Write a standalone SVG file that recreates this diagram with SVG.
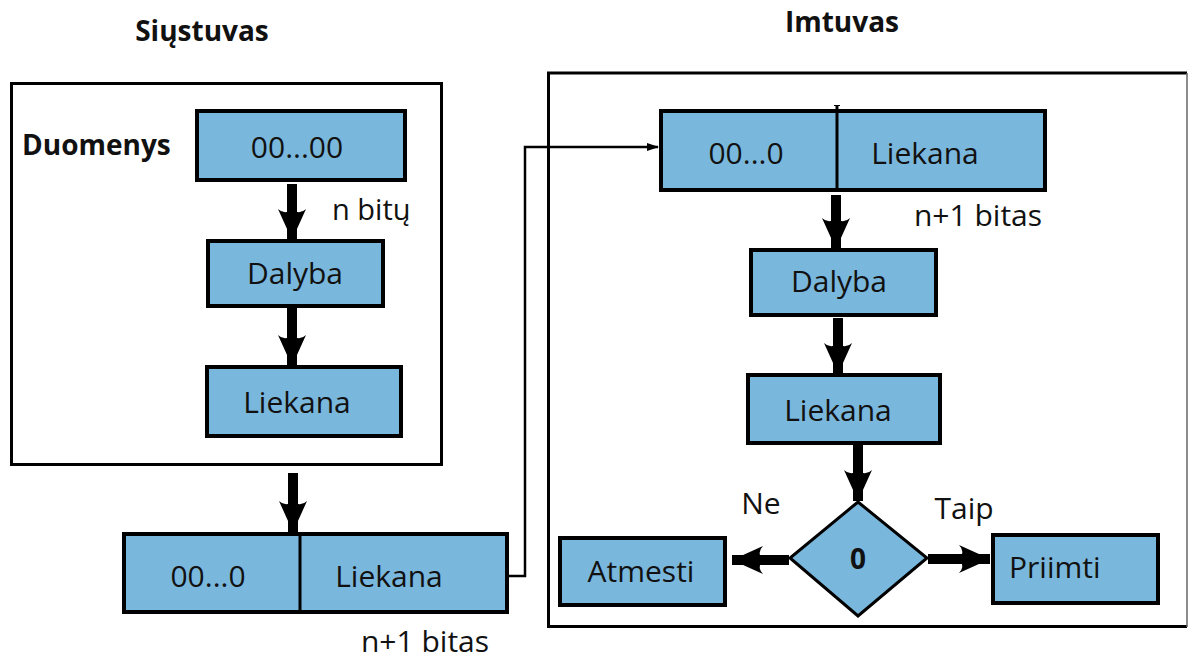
<svg xmlns="http://www.w3.org/2000/svg" width="1188" height="659" viewBox="0 0 1188 659">
  <style>
    text { font-family: "Open Sans", "Noto Sans", "Liberation Sans", sans-serif; fill: #111; }
    .lbl { font-size: 30px; text-anchor: middle; }
    .title { font-size: 28px; font-weight: bold; text-anchor: middle; }
    .frame { fill: none; stroke: #000; stroke-width: 3; }
    .box { fill: #7AB7DC; stroke: #000; stroke-width: 4; }
    .div { stroke: #000; stroke-width: 3; }
    .thick { stroke: #000; stroke-width: 10; fill: none; marker-end: url(#bigHead); }
    .thin { stroke: #000; stroke-width: 2.5; fill: none; marker-end: url(#smallHead); }
  </style>
  <defs>
    <marker id="bigHead" markerUnits="userSpaceOnUse" markerWidth="32" markerHeight="30" refX="31" refY="15" orient="auto" viewBox="0 0 32 30">
      <path d="M0,1 Q6,7 1,15 Q6,23 0,29 L31,15 Z" fill="#000"/>
    </marker>
    <marker id="smallHead" markerUnits="userSpaceOnUse" markerWidth="12" markerHeight="10" refX="11" refY="5" orient="auto" viewBox="0 0 12 10">
      <path d="M0,1 L12,5 L0,9 Z" fill="#000"/>
    </marker>
  </defs>

  <rect width="1188" height="659" fill="#fff"/>

  <!-- sender side -->
  <g id="sender">
    <text class="title" x="202" y="41">Siųstuvas</text>
    <rect class="frame" x="11.5" y="83.5" width="430" height="381"/>
    <text x="22" y="155" style="font-size:28px;font-weight:bold">Duomenys</text>
  </g>
  <g id="data">
    <rect class="box" x="197" y="111" width="208" height="69"/>
    <text class="lbl" x="297" y="158">00...00</text>
  </g>
  <g id="divide-s">
    <rect class="box" x="208" y="241" width="175" height="65"/>
    <text class="lbl" x="295" y="284">Dalyba</text>
  </g>
  <g id="remainder-s">
    <rect class="box" x="207" y="367" width="194" height="69"/>
    <text class="lbl" x="297" y="413">Liekana</text>
  </g>
  <g id="frame-s">
    <rect class="box" x="124" y="534" width="383" height="78"/>
    <line class="div" x1="300" y1="534" x2="300" y2="612"/>
    <text class="lbl" x="208" y="587">00...0</text>
    <text class="lbl" x="389" y="587">Liekana</text>
  </g>

  <!-- receiver side -->
  <g id="receiver">
    <text class="title" x="842" y="32">Imtuvas</text>
    <path d="M1187,73 H548.5 V626.5 H1187" fill="none" stroke="#000" stroke-width="3"/>
    <line x1="1187" y1="73" x2="1187" y2="627" stroke="#666" stroke-width="1.5"/>
  </g>
  <g id="frame-r">
    <rect class="box" x="661" y="111" width="384" height="79"/>
    <line class="div" x1="837" y1="106" x2="837" y2="190"/>
    <line x1="834" y1="105.5" x2="840" y2="105.5" stroke="#000" stroke-width="1"/>
    <text class="lbl" x="746" y="164">00...0</text>
    <text class="lbl" x="925" y="164">Liekana</text>
  </g>
  <g id="divide-r">
    <rect class="box" x="751" y="250" width="185" height="65"/>
    <text class="lbl" x="839" y="292">Dalyba</text>
  </g>
  <g id="remainder-r">
    <rect class="box" x="748" y="375" width="192" height="68"/>
    <text class="lbl" x="838" y="421">Liekana</text>
  </g>
  <g id="check">
    <polygon points="858,502 927,558 858,616 790,558" fill="#7AB7DC" stroke="#000" stroke-width="3"/>
    <text x="858" y="569" style="font-size:28px;font-weight:bold;text-anchor:middle">0</text>
  </g>
  <g id="reject">
    <rect class="box" x="560" y="538" width="165" height="67"/>
    <text class="lbl" x="641" y="582">Atmesti</text>
  </g>
  <g id="accept">
    <rect class="box" x="993" y="535" width="165" height="68"/>
    <text class="lbl" x="1009" y="578" style="text-anchor:start">Priimti</text>
  </g>

  <!-- connectors -->
  <g id="connectors">
    <line class="thick" x1="292" y1="184" x2="292" y2="240"/>
    <line class="thick" x1="292" y1="307" x2="292" y2="366"/>
    <line class="thick" x1="293" y1="473" x2="293" y2="532"/>
    <path class="thin" d="M507,576 H525 V147 H658"/>
    <line class="thick" x1="836" y1="195" x2="836" y2="249"/>
    <line class="thick" x1="838" y1="318" x2="838" y2="374"/>
    <line class="thick" x1="858" y1="445" x2="858" y2="501"/>
    <line class="thick" x1="789" y1="560" x2="732" y2="560"/>
    <line class="thick" x1="928" y1="559" x2="990" y2="559"/>
  </g>

  <!-- edge labels -->
  <g id="labels">
    <text x="332" y="220" style="font-size:29px">n bitų</text>
    <text class="lbl" x="425" y="652">n+1 bitas</text>
    <text class="lbl" x="978" y="226">n+1 bitas</text>
    <text class="lbl" x="761" y="514">Ne</text>
    <text class="lbl" x="964" y="519">Taip</text>
  </g>
</svg>
